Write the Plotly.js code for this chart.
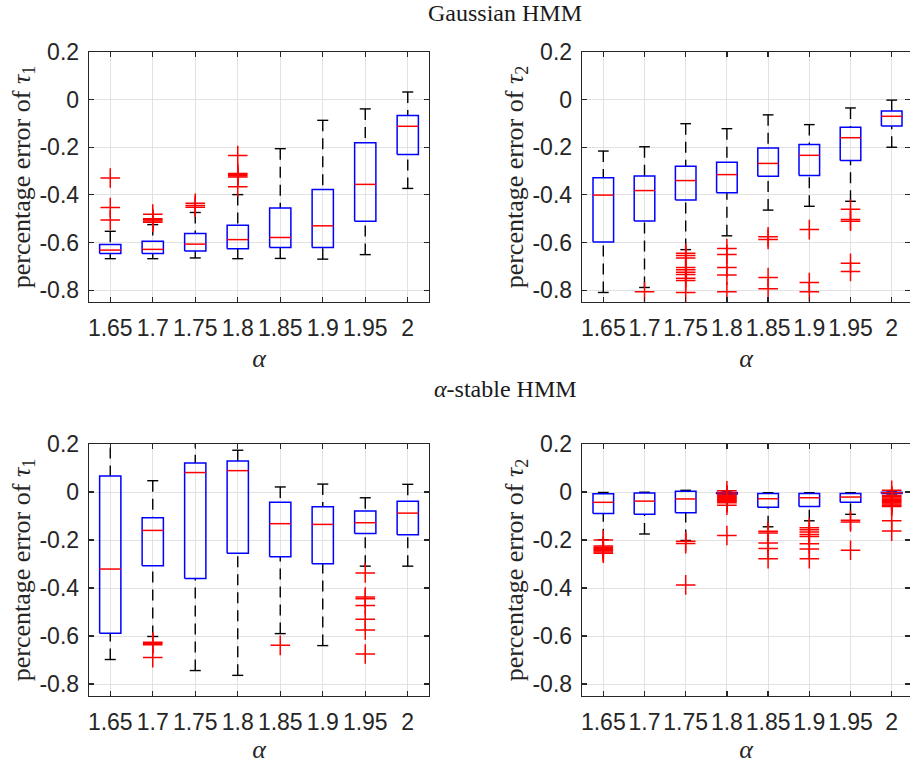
<!DOCTYPE html>
<html>
<head>
<meta charset="utf-8">
<script src="https://cdn.plot.ly/plotly-3.0.1.min.js"></script>
<style>html,body{margin:0;padding:0;background:#fff;}#chart{width:910px;height:764px;}</style>
</head>
<body>
<div id="chart"></div>
<script>
// ---- categories / ticks ----
const alphaLabels = ["1.65", "1.7", "1.75", "1.8", "1.85", "1.9", "1.95", "2"];
const yTickVals = [-0.8, -0.6, -0.4, -0.2, 0, 0.2];
const yTickText = ["-0.8", "-0.6", "-0.4", "-0.2", "0", "0.2"];

// ---- Gaussian HMM, tau1 ----
const gT1Lower  = [-0.668, -0.668, -0.665, -0.668, -0.667, -0.670, -0.651, -0.373];
const gT1Q1     = [-0.646, -0.646, -0.636, -0.626, -0.621, -0.621, -0.511, -0.231];
const gT1Median = [-0.632, -0.629, -0.607, -0.588, -0.579, -0.530, -0.356, -0.112];
const gT1Q3     = [-0.609, -0.595, -0.562, -0.528, -0.455, -0.378, -0.181, -0.067];
const gT1Upper  = [-0.553, -0.525, -0.474, -0.399, -0.206, -0.087, -0.039, 0.032];
const gT1Outliers = [
  [-0.329, -0.453, -0.506],
  [-0.481, -0.500, -0.505, -0.510, -0.515],
  [-0.435, -0.445, -0.452],
  [-0.235, -0.310, -0.315, -0.320, -0.325, -0.366],
  [], [], [], []
];

// ---- Gaussian HMM, tau2 ----
const gT2Lower  = [-0.810, -0.789, -0.630, -0.572, -0.464, -0.448, -0.427, -0.200];
const gT2Q1     = [-0.598, -0.510, -0.422, -0.391, -0.322, -0.319, -0.256, -0.111];
const gT2Median = [-0.401, -0.382, -0.340, -0.315, -0.268, -0.234, -0.160, -0.070];
const gT2Q3     = [-0.328, -0.321, -0.280, -0.263, -0.203, -0.188, -0.116, -0.048];
const gT2Upper  = [-0.216, -0.198, -0.101, -0.122, -0.064, -0.105, -0.035, -0.002];
const gT2Outliers = [
  [],
  [-0.807],
  [-0.645, -0.655, -0.665, -0.705, -0.715, -0.725, -0.735, -0.750, -0.760, -0.810],
  [-0.625, -0.651, -0.705, -0.737, -0.807],
  [-0.576, -0.587, -0.747, -0.794],
  [-0.546, -0.768, -0.807],
  [-0.460, -0.504, -0.511, -0.687, -0.722],
  []
];

// ---- alpha-stable HMM, tau1 ----
const sT1Lower  = [-0.698, -0.602, -0.744, -0.764, -0.590, -0.640, -0.309, -0.309];
const sT1Q1     = [-0.589, -0.307, -0.360, -0.255, -0.270, -0.299, -0.173, -0.178];
const sT1Median = [-0.321, -0.160, 0.081, 0.089, -0.132, -0.135, -0.128, -0.088];
const sT1Q3     = [0.067, -0.107, 0.121, 0.129, -0.043, -0.061, -0.079, -0.039];
const sT1Upper  = [0.260, 0.047, 0.230, 0.174, 0.021, 0.033, -0.024, 0.032];
const sT1Outliers = [
  [],
  [-0.626, -0.630, -0.636, -0.690],
  [],
  [],
  [-0.639],
  [],
  [-0.337, -0.438, -0.445, -0.473, -0.530, -0.575, -0.675],
  []
];

// ---- alpha-stable HMM, tau2 ----
const sT2Lower  = [-0.199, -0.175, -0.202, -0.010, -0.145, -0.120, -0.093, -0.008];
const sT2Q1     = [-0.090, -0.093, -0.086, -0.008, -0.064, -0.060, -0.043, -0.006];
const sT2Median = [-0.043, -0.038, -0.029, -0.004, -0.028, -0.024, -0.021, -0.003];
const sT2Q3     = [-0.007, -0.004, 0.003, -0.002, -0.006, -0.006, -0.006, -0.001];
const sT2Upper  = [-0.002, -0.001, 0.007, 0.000, -0.003, -0.003, -0.003, 0.000];
const sT2Outliers = [
  [-0.200, -0.225, -0.230, -0.235, -0.240, -0.245, -0.250, -0.255],
  [],
  [-0.205, -0.215, -0.387],
  [0.005, -0.012, -0.016, -0.020, -0.024, -0.028, -0.032, -0.036, -0.040, -0.045, -0.055, -0.181],
  [-0.164, -0.171, -0.213, -0.235, -0.278],
  [-0.149, -0.157, -0.167, -0.177, -0.185, -0.216, -0.238, -0.278],
  [-0.118, -0.125, -0.243],
  [0.007, -0.015, -0.020, -0.025, -0.030, -0.035, -0.040, -0.045, -0.050, -0.055, -0.060, -0.120, -0.163]
];

// ---- build traces ----
const BOX_HALF = 0.25, CAP_HALF = 0.13;
const panels = [
  {xa: 'x',  ya: 'y',  lo: gT1Lower, q1: gT1Q1, med: gT1Median, q3: gT1Q3, hi: gT1Upper, out: gT1Outliers},
  {xa: 'x2', ya: 'y2', lo: gT2Lower, q1: gT2Q1, med: gT2Median, q3: gT2Q3, hi: gT2Upper, out: gT2Outliers},
  {xa: 'x3', ya: 'y3', lo: sT1Lower, q1: sT1Q1, med: sT1Median, q3: sT1Q3, hi: sT1Upper, out: sT1Outliers},
  {xa: 'x4', ya: 'y4', lo: sT2Lower, q1: sT2Q1, med: sT2Median, q3: sT2Q3, hi: sT2Upper, out: sT2Outliers}
];

const traces = [];
panels.forEach(p => {
  const wx = [], wy = [], cx = [], cy = [], bx = [], by = [], mx = [], my = [], ox = [], oy = [];
  alphaLabels.forEach((lab, k) => {
    const c = k + 1;
    wx.push(c, c, null, c, c, null);
    wy.push(p.hi[k], p.q3[k], null, p.lo[k], p.q1[k], null);
    cx.push(c - CAP_HALF, c + CAP_HALF, null, c - CAP_HALF, c + CAP_HALF, null);
    cy.push(p.hi[k], p.hi[k], null, p.lo[k], p.lo[k], null);
    bx.push(c - BOX_HALF, c + BOX_HALF, c + BOX_HALF, c - BOX_HALF, c - BOX_HALF, null);
    by.push(p.q1[k], p.q1[k], p.q3[k], p.q3[k], p.q1[k], null);
    mx.push(c - BOX_HALF, c + BOX_HALF, null);
    my.push(p.med[k], p.med[k], null);
    p.out[k].forEach(v => { ox.push(c); oy.push(v); });
  });
  const base = {xaxis: p.xa, yaxis: p.ya, type: 'scatter', hoverinfo: 'skip', showlegend: false};
  traces.push(Object.assign({}, base, {x: wx, y: wy, mode: 'lines', line: {color: '#000000', width: 1.4, dash: '11px,7px'}}));
  traces.push(Object.assign({}, base, {x: cx, y: cy, mode: 'lines', line: {color: '#000000', width: 1.4}}));
  traces.push(Object.assign({}, base, {x: bx, y: by, mode: 'lines', line: {color: '#0000ff', width: 1.5}}));
  traces.push(Object.assign({}, base, {x: mx, y: my, mode: 'lines', line: {color: '#ff0000', width: 1.5}}));
  traces.push(Object.assign({}, base, {x: ox, y: oy, mode: 'markers', cliponaxis: true,
    marker: {symbol: 'cross-thin-open', size: 14, color: '#ff0000', line: {color: '#ff0000', width: 1.5}}}));
});

// ---- layout ----
const W = 910, H = 764;
const tickFont = {family: 'Liberation Sans, Arial, Helvetica, sans-serif', size: 23, color: '#262626'};
const titleFont = {family: 'Liberation Serif, Times New Roman, serif', size: 26, color: '#262626'};
function xAxis(domain, range, anchor) {
  return {
    domain: domain, range: range, anchor: anchor,
    tickmode: 'array', tickvals: alphaLabels.map((l, i) => i + 1), ticktext: alphaLabels,
    tickangle: 0, tickfont: tickFont, ticks: 'inside', ticklen: 5, tickwidth: 1.2, tickcolor: '#262626',
    showline: true, linecolor: '#262626', linewidth: 1.3, mirror: 'ticks',
    showgrid: true, gridcolor: '#e2e2e2', gridwidth: 1, zeroline: false, fixedrange: true,
    ticklabelstandoff: 5,
    title: {text: '<i>α</i>', font: titleFont, standoff: 9}
  };
}
function yAxis(domain, anchor, sub) {
  return {
    domain: domain, range: [-0.85, 0.2], anchor: anchor,
    tickmode: 'array', tickvals: yTickVals, ticktext: yTickText,
    tickfont: tickFont, ticks: 'inside', ticklen: 5, tickwidth: 1.2, tickcolor: '#262626',
    showline: true, linecolor: '#262626', linewidth: 1.3, mirror: 'ticks',
    showgrid: true, gridcolor: '#e2e2e2', gridwidth: 1, zeroline: false, fixedrange: true,
    ticklabelstandoff: 4,
    title: {text: 'percentage error of <i>τ</i><sub>' + sub + '</sub>', font: titleFont, standoff: 0}
  };
}
const leftDom = [89 / W, 429 / W];
const rightDom = [582 / W, 1];
const topDom = [1 - 302 / H, 1 - 52 / H];
const botDom = [1 - 696 / H, 1 - 444 / H];
const leftRange = [0.5, 8.5];
const rightRange = [0.483, 8.444];

const layout = {
  width: W, height: H,
  margin: {l: 0, r: 0, t: 0, b: 0},
  paper_bgcolor: '#ffffff', plot_bgcolor: '#ffffff',
  showlegend: false,
  xaxis: xAxis(leftDom, leftRange, 'y'),
  yaxis: yAxis(topDom, 'x', '1'),
  xaxis2: xAxis(rightDom, rightRange, 'y2'),
  yaxis2: yAxis(topDom, 'x2', '2'),
  xaxis3: xAxis(leftDom, leftRange, 'y3'),
  yaxis3: yAxis(botDom, 'x3', '1'),
  xaxis4: xAxis(rightDom, rightRange, 'y4'),
  yaxis4: yAxis(botDom, 'x4', '2'),
  annotations: [
    {text: 'Gaussian HMM', xref: 'paper', yref: 'paper', x: 505 / W, y: 1 - 13 / H,
     xanchor: 'center', yanchor: 'middle', showarrow: false,
     font: {family: 'Liberation Serif, Times New Roman, serif', size: 24, color: '#1a1a1a'}},
    {text: '<i>α</i>-stable HMM', xref: 'paper', yref: 'paper', x: 505 / W, y: 1 - 389 / H,
     xanchor: 'center', yanchor: 'middle', showarrow: false,
     font: {family: 'Liberation Serif, Times New Roman, serif', size: 24, color: '#1a1a1a'}}
  ]
};

Plotly.newPlot('chart', traces, layout, {staticPlot: true, displayModeBar: false});
</script>
</body>
</html>
